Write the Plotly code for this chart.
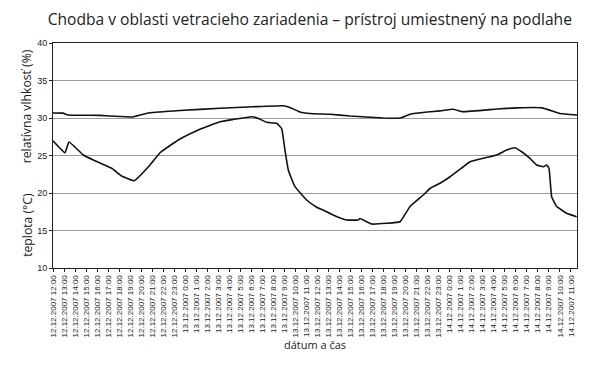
import plotly.graph_objects as go

# hours since 12.12.2007 12:00
temp_hours = [0.0, 1.09, 1.45, 2.75, 3.66, 5.33, 6.23, 7.38, 8.80, 9.71, 10.89, 11.52,
              13.04, 15.15, 16.33, 18.03, 18.6, 19.39, 20.3, 20.75, 21.05, 21.35, 21.96,
              23.02, 23.93, 24.5, 25.41, 26.65, 27.68, 27.86, 28.92, 30.28, 31.49, 32.4,
              33.6, 34.21, 35.12, 36.03, 37.23, 37.84, 40.26, 41.17, 41.92, 42.53, 43.28,
              43.89, 44.49, 44.8, 45.01, 45.25, 45.71, 46.61, 47.52]
temp_values = [26.97, 25.37, 26.8, 25.07, 24.4, 23.3, 22.27, 21.64, 23.73, 25.37, 26.6, 27.2,
               28.3, 29.5, 29.8, 30.17, 29.96, 29.42, 29.3, 28.6, 25.7, 23.07, 20.84,
               19.07, 18.1, 17.73, 17.07, 16.4, 16.4, 16.6, 15.87, 15.96, 16.17, 18.2,
               19.73, 20.6, 21.3, 22.17, 23.5, 24.17, 25.07, 25.73, 26.04, 25.5, 24.62,
               23.73, 23.5, 23.73, 23.3, 19.5, 18.2, 17.3, 16.84]

hum_hours = [0.0, 0.9, 1.36, 4.26, 6.08, 7.26, 7.9, 8.8, 11.52, 15.15, 18.15, 20.87,
             21.5, 22.41, 23.32, 25.14, 26.95, 29.95, 31.49, 32.4, 33.94, 35.12, 36.3,
             37.2, 40.29, 42.1, 44.37, 46.0, 47.55]
hum_values = [30.67, 30.65, 30.4, 30.35, 30.2, 30.13, 30.4, 30.7, 31.0, 31.3, 31.5, 31.64,
              31.4, 30.8, 30.6, 30.5, 30.27, 30.0, 30.0, 30.5, 30.8, 30.95, 31.16,
              30.85, 31.2, 31.35, 31.35, 30.6, 30.4]

tick_labels = ([f"12.12.2007 {h}:00" for h in range(12, 24)]
               + [f"13.12.2007 {h}:00" for h in range(0, 24)]
               + [f"14.12.2007 {h}:00" for h in range(0, 12)])
tick_pos = list(range(len(tick_labels)))

fig = go.Figure()
fig.add_trace(go.Scatter(x=hum_hours, y=hum_values, mode="lines",
                         line=dict(color="#111111", width=1.6, shape="spline", smoothing=0.3),
                         name="relatívna vlhkosť"))
fig.add_trace(go.Scatter(x=temp_hours, y=temp_values, mode="lines",
                         line=dict(color="#111111", width=1.6, shape="spline", smoothing=0.3),
                         name="teplota"))

fig.update_layout(
    width=600, height=367,
    margin=dict(l=45, r=31, t=35, b=107, autoexpand=False),
    paper_bgcolor="white", plot_bgcolor="white",
    showlegend=False,
    font=dict(family="Liberation Sans, Arial, sans-serif", color="#222222"),
    title=dict(text="Chodba v oblasti vetracieho zariadenia – prístroj umiestnený na podlahe",
               x=0.503, xanchor="center", y=0.968, yanchor="middle", automargin=False,
               font=dict(family="Open Sans, sans-serif", size=15.6, color="#222222")),
    xaxis=dict(range=[0, 47.55], tickmode="array", tickvals=tick_pos, ticktext=tick_labels,
               tickangle=-90, tickfont=dict(size=8, color="#222222"), automargin=False,
               ticks="outside", ticklen=3, tickcolor="#222222",
               showgrid=False, zeroline=False,
               showline=True, linecolor="#222222", linewidth=1, mirror=True,
               title=dict(text="dátum a čas", font=dict(family="Open Sans, sans-serif", size=11),
                          standoff=2)),
    yaxis=dict(range=[10, 40], tickmode="array", tickvals=[10, 15, 20, 25, 30, 35, 40],
               tickfont=dict(size=9, color="#222222"), automargin=False,
               ticks="outside", ticklen=3, tickcolor="#222222",
               showgrid=True, gridcolor="#9a9a9a", gridwidth=1, zeroline=False,
               showline=True, linecolor="#222222", linewidth=1, mirror=True),
)

fig.add_annotation(text="relatívna vlhkosť (%)", xref="paper", yref="paper",
                   x=-0.05, y=0.718, textangle=-90, showarrow=False,
                   xanchor="center", yanchor="middle",
                   font=dict(family="Open Sans, sans-serif", size=12.2, color="#222222"))
fig.add_annotation(text="teplota (°C)", xref="paper", yref="paper",
                   x=-0.05, y=0.191, textangle=-90, showarrow=False,
                   xanchor="center", yanchor="middle",
                   font=dict(family="Open Sans, sans-serif", size=12.2, color="#222222"))

fig.write_html("out.html")
